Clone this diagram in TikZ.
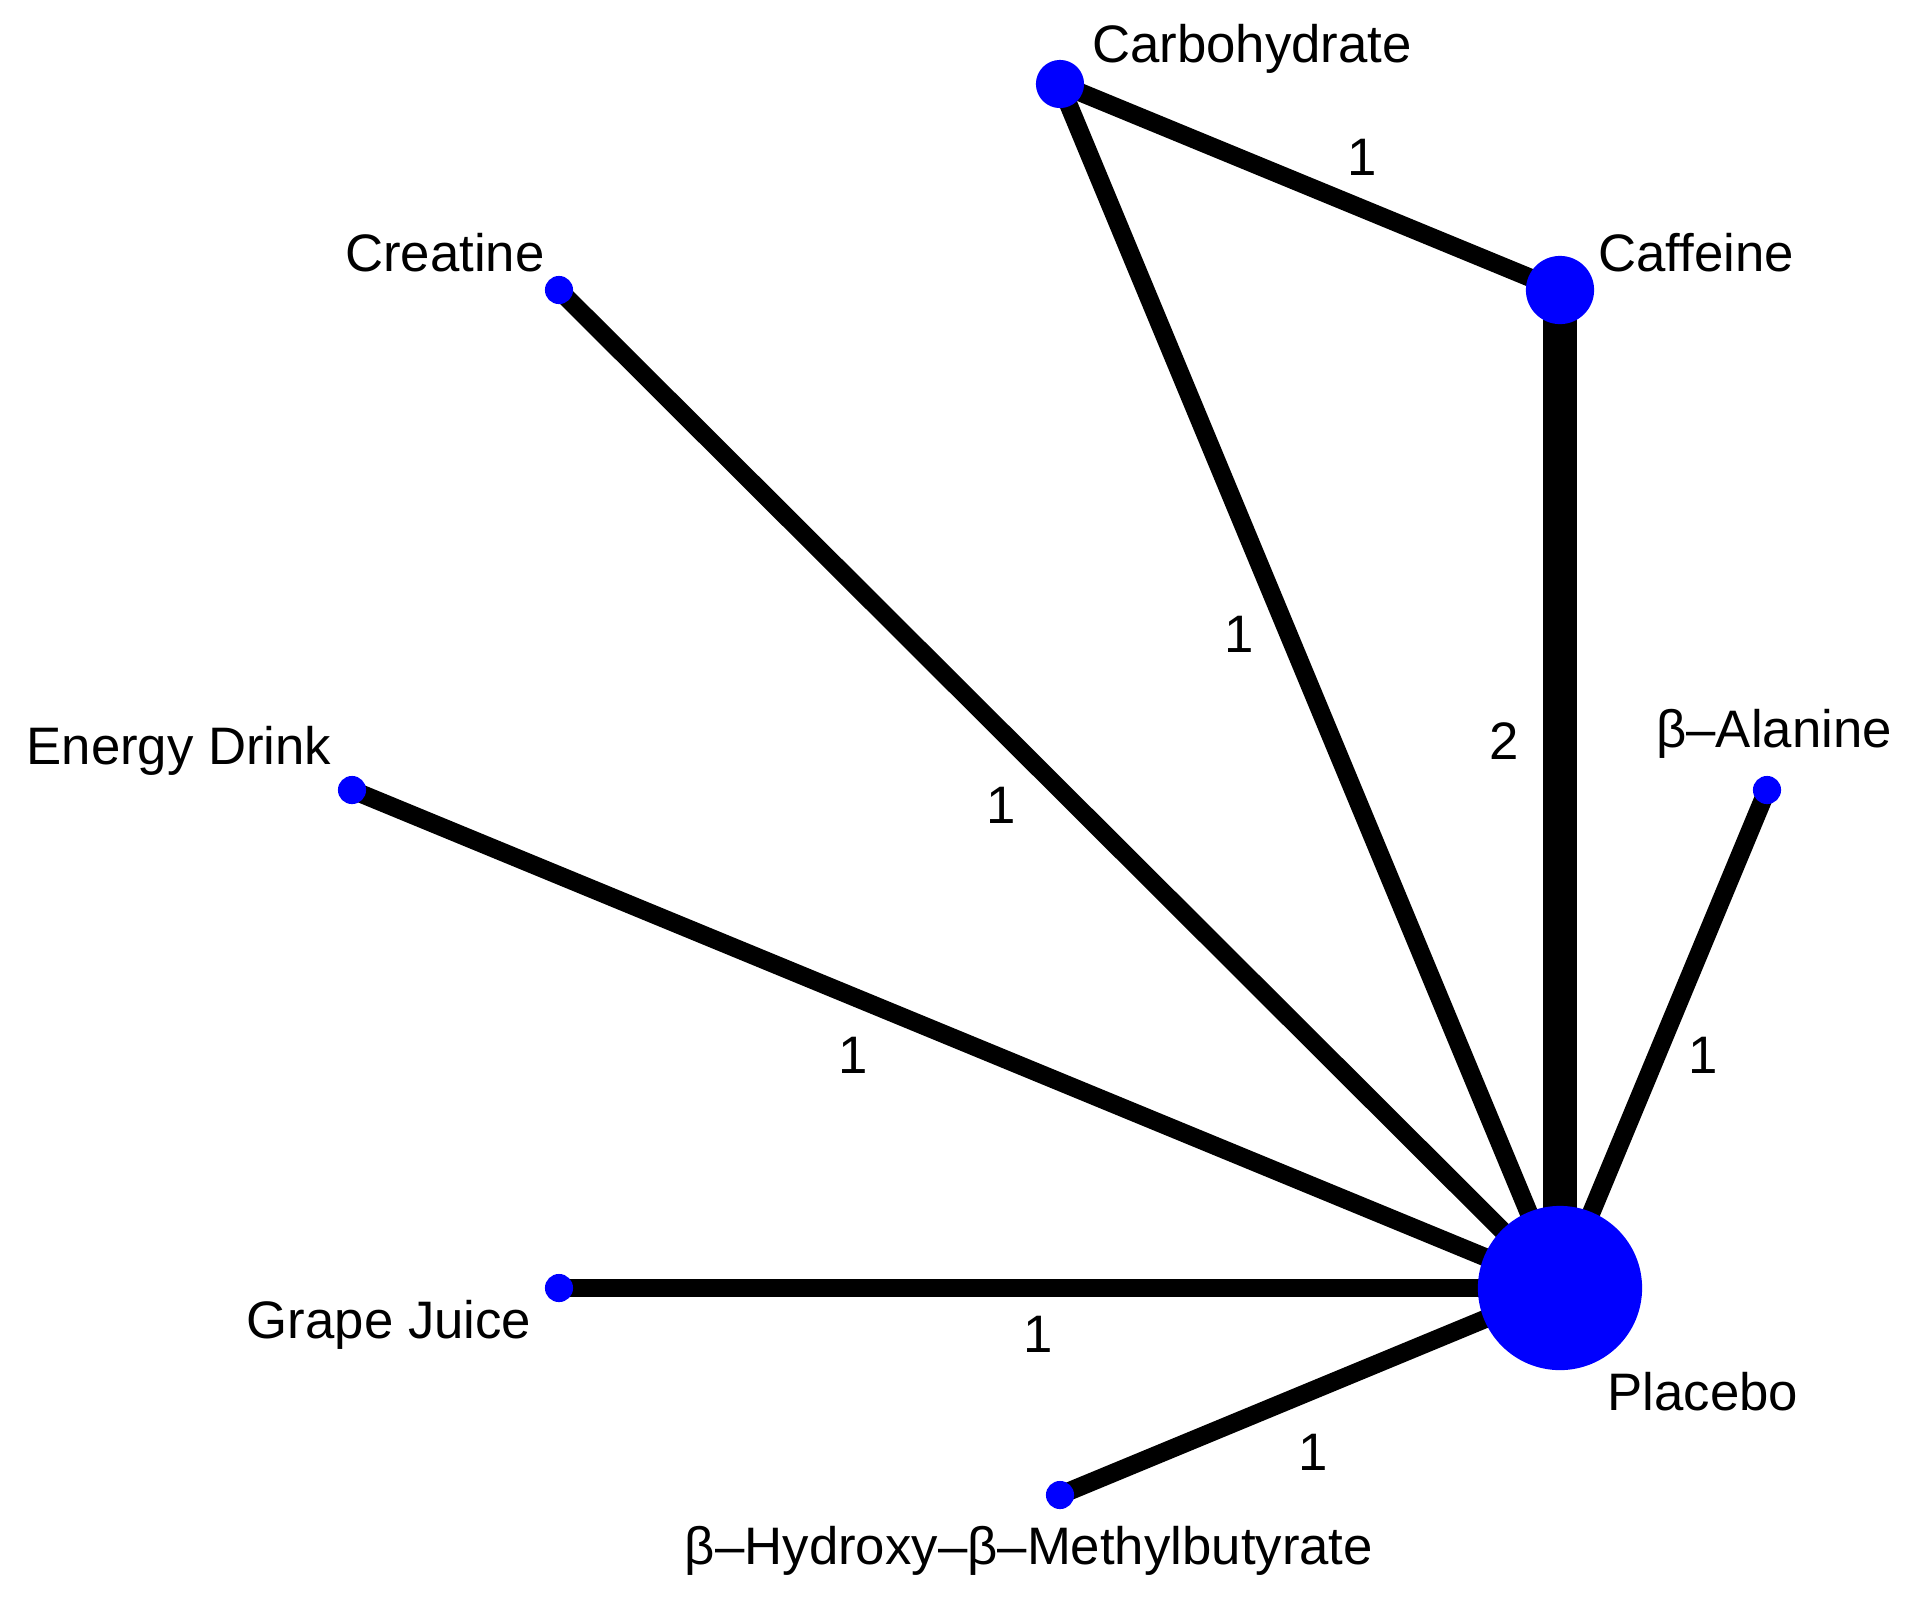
\documentclass[tikz,border=0pt]{standalone}
\usepackage{fontspec}
\setmainfont{Liberation Sans}
\usetikzlibrary{backgrounds}
\begin{document}
\begin{tikzpicture}[x=0.01cm,y=-0.01cm,
  pt/.style={circle,fill=blue,inner sep=0pt,minimum size=#1},
  lbl/.style={font=\fontsize{15}{18}\selectfont},
  edge/.style={line width=5.2pt},
  wedge/.style={line width=9.7pt}]
\useasboundingbox (0,0) rectangle (1917,1602);
\node[pt=164\pgflinewidth*0+4.67mm*0+46.7pt] (pla) at (1560,1288) {};
\node[pt=19.4pt] (caf) at (1560,290) {};
\node[pt=13.7pt] (carb) at (1060,84) {};
\node[pt=8pt] (cre) at (559,290) {};
\node[pt=8pt] (ene) at (352,790) {};
\node[pt=8pt] (gra) at (559,1288) {};
\node[pt=8pt] (hmb) at (1060,1495) {};
\node[pt=8pt] (ala) at (1767,790) {};
\begin{scope}[on background layer]
\draw[edge] (carb.center) -- (caf.center);
\draw[edge] (carb.center) -- (pla.center);
\draw[wedge] (caf.center) -- (pla.center);
\draw[edge] (cre.center) -- (pla.center);
\draw[edge] (ene.center) -- (pla.center);
\draw[edge] (gra.center) -- (pla.center);
\draw[edge] (hmb.center) -- (pla.center);
\draw[edge] (ala.center) -- (pla.center);
\end{scope}
\node[lbl] (l1) at (1252,49) {Carbohydrate};
\node[lbl] (l2) at (1696,253) {Caffeine};
\node[lbl] (l3) at (445,253) {Creatine};
\node[lbl] (l4) at (179,751) {Energy Drink};
\node[lbl] (l5) at (1774,734) {β–Alanine};
\node[lbl] (l6) at (389,1325) {Grape Juice};
\node[lbl] (l7) at (1703,1392) {Placebo};
\node[lbl] (l8) at (1029,1551) {β–Hydroxy–β–Methylbutyrate};
\node[lbl] (e1) at (1362,157) {1};
\node[lbl] (e2) at (1239,634) {1};
\node[lbl] (e3) at (1504,741) {2};
\node[lbl] (e4) at (1001,805) {1};
\node[lbl] (e5) at (853,1055) {1};
\node[lbl] (e6) at (1703,1055) {1};
\node[lbl] (e7) at (1038,1334) {1};
\node[lbl] (e8) at (1313,1452) {1};
\end{tikzpicture}
\end{document}
